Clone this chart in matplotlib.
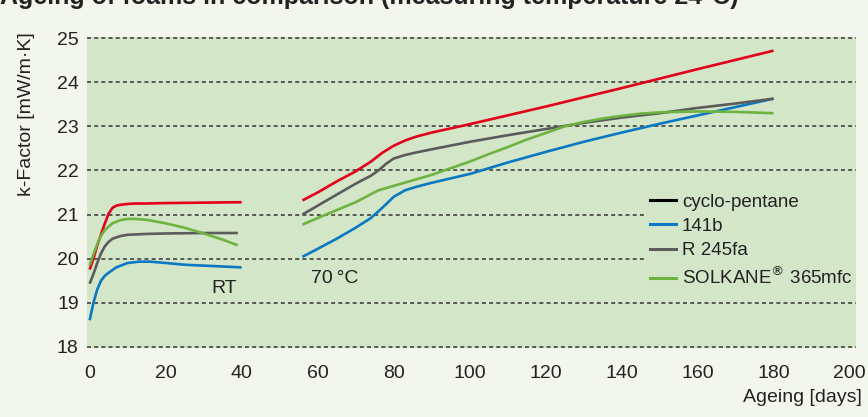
import matplotlib
matplotlib.use("Agg")
import matplotlib.pyplot as plt
from matplotlib.lines import Line2D

plt.rcParams['font.family'] = ['Liberation Sans', 'DejaVu Sans']

# Room temperature ageing (days 0-40)
rt_days_red = [0, 1, 2, 3, 4, 5, 6, 7, 8, 10, 12, 15, 20, 30, 40]
rt_red = [19.75, 20.0, 20.3, 20.55, 20.8, 21.02, 21.15, 21.2, 21.22, 21.24, 21.25, 21.25, 21.26, 21.27, 21.28]
rt_days_blue = [0, 1, 2, 3, 4, 5, 7, 10, 13, 16, 20, 25, 30, 40]
rt_blue = [18.6, 19.0, 19.3, 19.5, 19.61, 19.68, 19.8, 19.9, 19.93, 19.93, 19.9, 19.86, 19.84, 19.8]
rt_days_gray = [0, 1, 2, 3, 4, 5, 6, 8, 10, 15, 20, 30, 39]
rt_gray = [19.43, 19.65, 19.9, 20.12, 20.28, 20.38, 20.45, 20.51, 20.54, 20.56, 20.57, 20.58, 20.58]
rt_days_green = [0, 1, 2, 3, 4, 6, 8, 10, 12, 15, 20, 25, 30, 35, 39]
rt_green = [19.85, 20.1, 20.33, 20.52, 20.65, 20.8, 20.87, 20.9, 20.9, 20.88, 20.8, 20.7, 20.57, 20.43, 20.3]

# 70 degC ageing (days 56-180)
hot_days_red = [56, 60, 65, 70, 74, 77, 80, 83, 86, 90, 100, 120, 140, 160, 180]
hot_red = [21.32, 21.5, 21.75, 21.98, 22.2, 22.4, 22.56, 22.68, 22.77, 22.86, 23.05, 23.45, 23.87, 24.3, 24.72]
hot_days_blue = [56, 60, 65, 70, 74, 77, 80, 83, 86, 90, 95, 100, 110, 120, 130, 140, 150, 160, 170, 180]
hot_blue = [20.04, 20.22, 20.45, 20.7, 20.92, 21.15, 21.4, 21.55, 21.63, 21.72, 21.82, 21.92, 22.18, 22.42, 22.65, 22.86, 23.06, 23.25, 23.44, 23.63]
hot_days_gray = [56, 60, 65, 70, 74, 76, 78, 80, 83, 86, 90, 100, 110, 120, 130, 140, 150, 160, 170, 180]
hot_gray = [21.0, 21.2, 21.45, 21.7, 21.88, 22.0, 22.15, 22.27, 22.35, 22.41, 22.48, 22.65, 22.8, 22.94, 23.08, 23.2, 23.3, 23.42, 23.52, 23.63]
hot_days_green = [56, 60, 65, 70, 76, 80, 86, 90, 95, 100, 105, 110, 115, 120, 125, 130, 135, 140, 145, 150, 160, 170, 180]
hot_green = [20.77, 20.92, 21.1, 21.28, 21.55, 21.65, 21.8, 21.9, 22.05, 22.2, 22.37, 22.53, 22.7, 22.85, 23.0, 23.1, 23.18, 23.24, 23.29, 23.32, 23.34, 23.33, 23.3]

series_names = ["cyclo-pentane", "141b", "R 245fa", "SOLKANE$^{\u00ae}$ 365mfc"]
line_colors = ["#e2001a", "#0a78c2", "#5b5b5b", "#6db33f"]
legend_colors = ["#000000", "#0a78c2", "#5b5b5b", "#6db33f"]

x_ticks = list(range(0, 201, 20))
y_ticks = list(range(18, 26))

bg = "#f3f6ec"
green_bg = "#d3e6c8"

fig = plt.figure(figsize=(8.68, 4.17), dpi=100, facecolor=bg)
ax = fig.add_axes([87 / 868, 1 - 348 / 417, (856 - 87) / 868, (348 - 37) / 417])
ax.set_facecolor(green_bg)

for y in y_ticks:
    ax.axhline(y, color="#333333", lw=1.1, ls=(0, (2.6, 2.1)), zorder=1)

rt = [(rt_days_red, rt_red), (rt_days_blue, rt_blue), (rt_days_gray, rt_gray), (rt_days_green, rt_green)]
hot = [(hot_days_red, hot_red), (hot_days_blue, hot_blue), (hot_days_gray, hot_gray), (hot_days_green, hot_green)]
for (xr, yr), (xh, yh), c in zip(rt, hot, line_colors):
    ax.plot(xr, yr, color=c, lw=1.9, solid_capstyle="butt", zorder=3)
    ax.plot(xh, yh, color=c, lw=1.9, solid_capstyle="butt", zorder=3)

ax.set_xlim(-0.7, 201.7)
ax.set_ylim(17.97, 25.03)
ax.set_xticks(x_ticks)
ax.set_yticks(y_ticks)
ax.tick_params(length=0, labelsize=14, colors="#222222")
ax.tick_params(axis="x", pad=12)
ax.tick_params(axis="y", pad=6)
for s in ax.spines.values():
    s.set_visible(False)

ax.text(35.5, 19.31, "RT", fontsize=14, color="#222222", ha="center", va="center")
ax.text(64.5, 19.55, "70\u2009\u00b0C", fontsize=14, color="#222222", ha="center", va="center")

handles = [Line2D([], [], color=c, lw=2.2) for c in legend_colors]
leg = ax.legend(handles, series_names, loc="upper left", bbox_to_anchor=(0.725, 0.515),
                fontsize=13.5, frameon=True, facecolor=green_bg, edgecolor="none",
                framealpha=1, handlelength=1.4, handletextpad=0.3, labelspacing=0.38,
                borderpad=0.3, borderaxespad=0)
for t in leg.get_texts():
    t.set_color("#222222")
leg.set_zorder(5)
# keep the legend background inside the plot area
leg.legendPatch.set_clip_box(ax.bbox)
leg.legendPatch.set_clip_on(True)

fig.text(862 / 868, 1 - 398 / 417, "Ageing [days]", fontsize=14, color="#222222",
         ha="right", va="center")
fig.text(27 / 868, 1 - 114 / 417, "k-Factor [mW/m\u00b7K]", fontsize=14, color="#222222",
         rotation=90, ha="center", va="center")

# title is cut by the top edge, as in the reference
title = fig.text(0.0, 1 - 4 / 417, "Ageing of foams in comparison (measuring temperature 24\u00b0C)",
                 fontsize=16, fontweight="bold", color="#222222", ha="left", va="baseline")
fig.canvas.draw()
w = title.get_window_extent().width
title.set_fontsize(16 * 738 / w)

fig.savefig("out.png", dpi=100, facecolor=bg)
